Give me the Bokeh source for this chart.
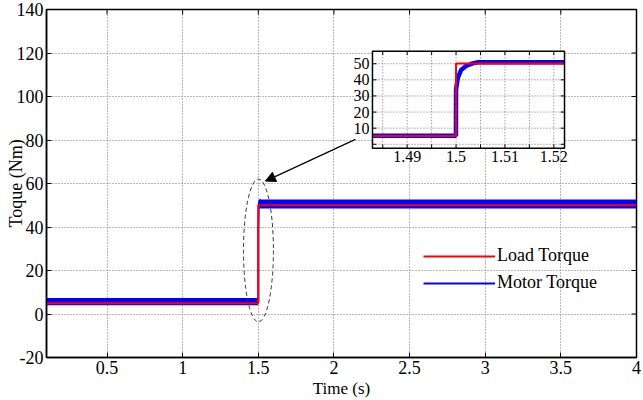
from bokeh.plotting import figure
from bokeh.models import FixedTicker, Range1d, Arrow, NormalHead, Legend, LegendItem
from bokeh.embed import file_html
from bokeh.resources import INLINE
from bokeh.core.properties import value

# ---------------- data ----------------
x_ticks = [0.5, 1.0, 1.5, 2.0, 2.5, 3.0, 3.5, 4.0]
y_ticks = [-20, 0, 20, 40, 60, 80, 100, 120, 140]

load_t = [0.1, 1.5, 1.5, 4.0]
load_v = [5, 5, 50, 50]

motor_t = [0.1, 1.5, 1.5, 1.503, 1.51, 1.53, 4.0]
motor_v = [5.6, 5.6, 38, 50.5, 52.5, 50.6, 50.6]

# envelope of the (noisy) motor torque
band_t_before = [0.1, 1.5]
band_lo_before = [4.0, 4.0]
band_hi_before = [7.3, 7.3]
band_t_after = [1.503, 4.0]
band_lo_after = [48.5, 48.5]
band_hi_after = [52.6, 52.6]

# inset (zoom on the step)
inset_t_ticks = [1.49, 1.5, 1.51, 1.52]
inset_t_labels = ["1.49", "1.5", "1.51", "1.52"]
inset_v_ticks = [10, 20, 30, 40, 50]
inset_v_labels = ["10", "20", "30", "40", "50"]
inset_grid_t = [1.485, 1.49, 1.495, 1.5, 1.505, 1.51, 1.515, 1.52]
inset_grid_v = [0, 10, 20, 30, 40, 50]

inset_load_t = [1.4829, 1.5, 1.5, 1.52219]
inset_load_v = [5.1, 5.1, 50.2, 50.2]

inset_motor_t = [1.4829, 1.49998, 1.5, 1.50034, 1.50102, 1.50204, 1.5034, 1.5045, 1.52219]
inset_motor_v = [5.3, 5.3, 34, 41, 46.1, 48.6, 50.2, 50.9, 50.9]

# ---------------- style / layout ----------------
FONT = "Liberation Serif"
T0, T1, V0, V1 = 1.4829, 1.52219, -2.5, 57.8          # inset data window
FX0, FX1, FY0, FY1 = 0.5525, 0.878, 0.6011, 0.8803    # inset box as fraction of frame
X0, X1, Y0, Y1 = 0.1, 4.0, -20, 140
W, H = 643, 400
BL, BR, BT, BB = 46, 7, 9, 42
FW, FH = W - BL - BR, H - BT - BB

ix_span = (T1 - T0) / (FX1 - FX0)
ix_start = T0 - FX0 * ix_span
iy_span = (V1 - V0) / (FY1 - FY0)
iy_start = V0 - FY0 * iy_span

p = figure(width=W, height=H, output_backend="svg", toolbar_location=None,
           x_range=Range1d(X0, X1), y_range=Range1d(Y0, Y1),
           min_border_left=BL, min_border_right=BR, min_border_top=BT, min_border_bottom=BB)
p.extra_x_ranges = {"ix": Range1d(ix_start, ix_start + ix_span)}
p.extra_y_ranges = {"iy": Range1d(iy_start, iy_start + iy_span)}

p.outline_line_color = "black"
p.outline_line_width = 1.5
p.background_fill_color = "white"

for ax in (p.xaxis[0], p.yaxis[0]):
    ax.major_label_text_font = FONT
    ax.major_label_text_font_size = "18px"
    ax.major_label_text_color = "black"
    ax.axis_label_text_font = FONT
    ax.axis_label_text_font_size = "17px"
    ax.axis_label_text_font_style = "normal"
    ax.axis_label_text_color = "black"
    ax.major_tick_in = 5
    ax.major_tick_out = 0
    ax.minor_tick_line_color = None
    ax.axis_line_color = "black"
    ax.axis_line_width = 1.5
    ax.major_tick_line_width = 1
    ax.major_label_standoff = 3

p.yaxis[0].axis_label_text_font_size = "18px"
p.xaxis[0].axis_label_standoff = 2
p.yaxis[0].axis_label_standoff = -12
p.xaxis[0].ticker = FixedTicker(ticks=x_ticks)
p.yaxis[0].ticker = FixedTicker(ticks=y_ticks)
p.xaxis[0].major_label_overrides = {4.0: "4", 1.0: "1", 2.0: "2", 3.0: "3"}
p.yaxis[0].major_label_overrides = {-20: "-20"}
p.xaxis[0].axis_label = "Time (s)"
p.yaxis[0].axis_label = "Toque (Nm)"

p.xgrid.grid_line_color = "#777777"
p.ygrid.grid_line_color = "#777777"
p.xgrid.grid_line_dash = "1 2"
p.ygrid.grid_line_dash = "1 2"
p.xgrid.grid_line_width = 1
p.ygrid.grid_line_width = 1

# mirrored inward ticks on top and right edges (5 px long)
tick_dy = 5 * (Y1 - Y0) / FH
tick_dx = 5 * (X1 - X0) / FW
p.segment(x0=x_ticks, x1=x_ticks, y0=[Y1] * len(x_ticks), y1=[Y1 - tick_dy] * len(x_ticks),
          line_color="black", line_width=1)
p.segment(x0=[X1] * len(y_ticks), x1=[X1 - tick_dx] * len(y_ticks), y0=y_ticks, y1=y_ticks,
          line_color="black", line_width=1)

# main data
p.varea(x=band_t_before, y1=band_lo_before, y2=band_hi_before, fill_color="#0000ff")
p.varea(x=band_t_after, y1=band_lo_after, y2=band_hi_after, fill_color="#0000ff")
r_motor = p.line(motor_t, motor_v, line_color="#0000ff", line_width=2)
r_load = p.line(load_t, load_v, line_color="#ff0000", line_width=2)

# ellipse around the step + arrow to inset
p.ellipse(x=1.501, y=29.2, width=0.198, height=65.6, fill_alpha=0,
          line_color="#333333", line_dash="4 3", line_width=1)
p.add_layout(Arrow(end=NormalHead(size=10, fill_color="black", line_color="black"),
                   x_start=2.142, y_start=80.3, x_end=1.547, y_end=61.1,
                   line_color="black", line_width=1.2))

# ---------------- inset ----------------
kw = dict(x_range_name="ix", y_range_name="iy")
p.quad(left=[T0], right=[T1], bottom=[V0], top=[V1], fill_color="white",
       line_color=None, **kw)
p.segment(x0=inset_grid_t, x1=inset_grid_t, y0=[V0] * len(inset_grid_t), y1=[V1] * len(inset_grid_t),
          line_color="#777777", line_dash="1 2", line_width=1, **kw)
p.segment(x0=[T0] * len(inset_grid_v), x1=[T1] * len(inset_grid_v), y0=inset_grid_v, y1=inset_grid_v,
          line_color="#777777", line_dash="1 2", line_width=1, **kw)
# inset tick marks (inward)
tl_t = 0.0008
tl_v = 2.4
p.segment(x0=inset_grid_t, x1=inset_grid_t, y0=[V0] * len(inset_grid_t),
          y1=[V0 + tl_v] * len(inset_grid_t), line_color="black", **kw)
p.segment(x0=inset_grid_t, x1=inset_grid_t, y0=[V1] * len(inset_grid_t),
          y1=[V1 - tl_v] * len(inset_grid_t), line_color="black", **kw)
p.segment(x0=[T0] * len(inset_grid_v), x1=[T0 + tl_t] * len(inset_grid_v), y0=inset_grid_v,
          y1=inset_grid_v, line_color="black", **kw)
p.segment(x0=[T1] * len(inset_grid_v), x1=[T1 - tl_t] * len(inset_grid_v), y0=inset_grid_v,
          y1=inset_grid_v, line_color="black", **kw)

p.line(inset_motor_t, inset_motor_v, line_color="#0000ff", line_width=4.5, **kw)
p.line(inset_load_t, inset_load_v, line_color="#ff0000", line_width=2, **kw)

p.quad(left=[T0], right=[T1], bottom=[V0], top=[V1], fill_alpha=0,
       line_color="black", line_width=1.5, **kw)

p.text(x=inset_t_ticks, y=[V0] * len(inset_t_ticks), text=inset_t_labels,
       text_font=value(FONT), text_font_size="16px", text_align="center",
       text_baseline="top", y_offset=3, text_color="black", **kw)
p.text(x=[T0] * len(inset_v_ticks), y=inset_v_ticks, text=inset_v_labels,
       text_font=value(FONT), text_font_size="16px", text_align="right",
       text_baseline="middle", x_offset=-3, text_color="black", **kw)

# ---------------- legend ----------------
legend = Legend(items=[LegendItem(label="Load Torque", renderers=[r_load]),
                       LegendItem(label="Motor Torque", renderers=[r_motor])],
                location=(377, 64), background_fill_alpha=0, border_line_alpha=0,
                label_text_font=FONT, label_text_font_size="18px", label_text_color="black",
                glyph_width=72, glyph_height=20, label_height=20, spacing=6,
                label_standoff=2, padding=0, margin=0)
p.add_layout(legend, "center")

open("out.html", "w").write(file_html(p, INLINE))
